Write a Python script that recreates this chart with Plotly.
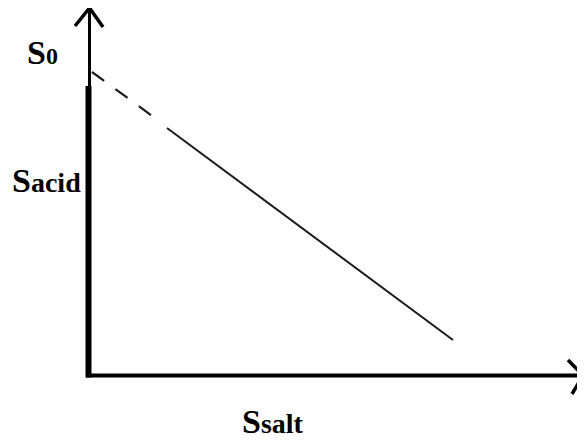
import plotly.graph_objects as go

# ---- data (conceptual units: origin at the axes' corner) ----
dashed_x = [3, 66]
dashed_y = [303, 257]
solid_x = [78, 364]
solid_y = [247, 35]

labels = ["S", "S", "S"]
label_subs = ["0", "acid", "salt"]

# page-pixel -> data helpers for decorations (page has an 8px body margin)
M = 8
OX, OY = 89, 375
def X(px):
    return px - OX
def Y(py):
    return OY - py

fig = go.Figure()
fig.add_trace(go.Scatter(x=dashed_x, y=dashed_y, mode="lines",
                         line=dict(color="#1a1a1a", width=2.2, dash="15px,14px"),
                         hoverinfo="skip", showlegend=False))
fig.add_trace(go.Scatter(x=solid_x, y=solid_y, mode="lines",
                         line=dict(color="#1a1a1a", width=2), hoverinfo="skip",
                         showlegend=False))

shapes = []
def seg(x0, y0, x1, y1, w):
    shapes.append(dict(type="line", x0=X(x0), y0=Y(y0), x1=X(x1), y1=Y(y1),
                       line=dict(color="black", width=w), layer="above"))

# y axis (thin upper, thick lower)
seg(89.5, 9, 89.5, 87, 3)
seg(88.5, 86, 88.5, 377.5, 6)
# x axis
seg(86, 375.5, 583, 375.5, 4)
# top arrow head
shapes.append(dict(type="path",
                   path=f"M {X(75)},{Y(26)} L {X(89.5)},{Y(8)} L {X(103)},{Y(27)}",
                   line=dict(color="black", width=3.5), layer="above"))
# right arrow head
shapes.append(dict(type="path",
                   path=f"M {X(568)},{Y(360)} L {X(583)},{Y(375.5)} L {X(572)},{Y(394)}",
                   line=dict(color="black", width=3.5), layer="above"))

font = dict(family="Liberation Serif, Times New Roman, serif", size=34, color="black", weight=700)
pos = [(25, 52), (10, 180), (240, 421)]
subsz = [24, 28, 28]
annots = []
for (px, py), s, sub, ss in zip(pos, labels, label_subs, subsz):
    annots.append(dict(x=X(px), y=Y(py), xref="x", yref="y", showarrow=False,
                       xanchor="left", yanchor="middle",
                       text=f"<b>{s}<span style='font-size:{ss}px'>{sub}</span></b>",
                       font=font))

fig.update_layout(
    width=585 - M, height=440 - M,
    margin=dict(l=0, r=0, t=0, b=0),
    paper_bgcolor="white", plot_bgcolor="white",
    xaxis=dict(range=[X(M), X(585)], visible=False, fixedrange=True),
    yaxis=dict(range=[Y(440), Y(M)], visible=False, fixedrange=True),
    shapes=shapes, annotations=annots, showlegend=False,
)
fig.write_html("out.html")
